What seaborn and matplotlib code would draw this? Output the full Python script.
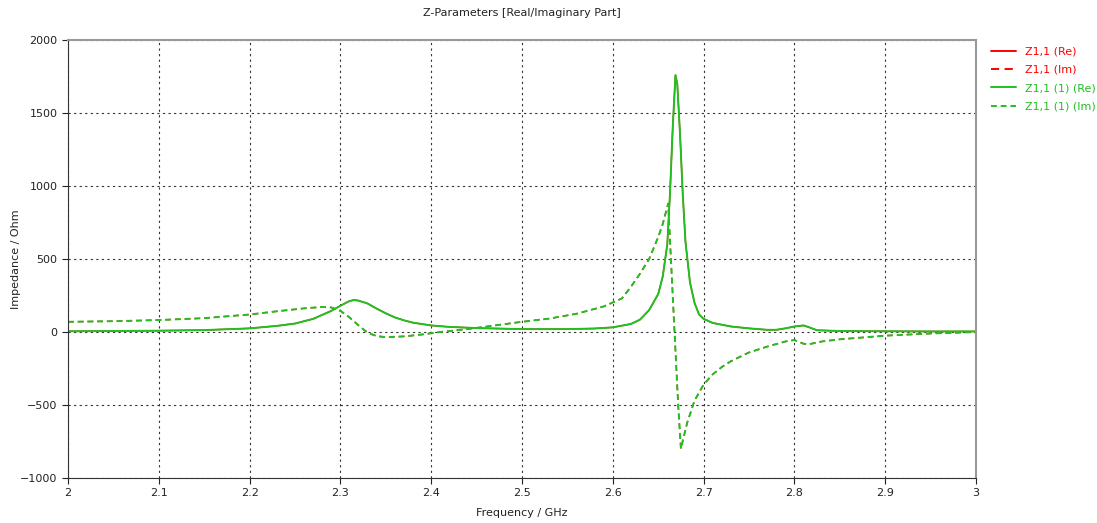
import numpy as np
import pandas as pd
import matplotlib.pyplot as plt
import seaborn as sns

sns.set_style("white")
plt.rcParams['font.family'] = ['DejaVu Sans']

# real part, frequency in GHz and impedance in Ohm
freq_re = [2.00, 2.05, 2.10, 2.15, 2.20, 2.23, 2.25, 2.27, 2.29, 2.30, 2.31, 2.315,
           2.32, 2.33, 2.34, 2.35, 2.36, 2.37, 2.38, 2.40, 2.42, 2.45, 2.50, 2.55,
           2.58, 2.60, 2.62, 2.63, 2.64, 2.65, 2.655, 2.66, 2.663, 2.666, 2.669,
           2.671, 2.674, 2.677, 2.68, 2.685, 2.69, 2.695, 2.70, 2.71, 2.72, 2.73,
           2.75, 2.77, 2.78, 2.79, 2.80, 2.81, 2.815, 2.825, 2.85, 2.90, 2.95, 3.00]
z_re = [5, 7, 9, 13, 25, 42, 58, 90, 145, 180, 212, 219,
        215, 195, 160, 128, 100, 80, 64, 45, 35, 27, 20, 20,
        24, 32, 55, 85, 150, 260, 380, 600, 950, 1400, 1760,
        1700, 1360, 950, 620, 340, 200, 120, 90, 62, 50, 38,
        25, 15, 15, 25, 38, 45, 35, 12, 7, 5, 4, 4]

# imaginary part
freq_im = [2.00, 2.05, 2.10, 2.15, 2.20, 2.23, 2.26, 2.28, 2.29, 2.30, 2.31, 2.32,
           2.33, 2.34, 2.35, 2.37, 2.39, 2.41, 2.44, 2.47, 2.50, 2.53, 2.56, 2.59,
           2.61, 2.62, 2.63, 2.64, 2.65, 2.655, 2.661, 2.664, 2.668, 2.672, 2.675,
           2.678, 2.682, 2.69, 2.70, 2.71, 2.72, 2.73, 2.75, 2.77, 2.79, 2.80,
           2.81, 2.815, 2.83, 2.85, 2.90, 2.95, 3.00]
z_im = [70, 74, 82, 95, 120, 142, 162, 172, 168, 145, 100, 45,
        -5, -28, -35, -30, -17, 0, 20, 45, 70, 92, 125, 175,
        230, 310, 400, 500, 650, 740, 880, 500, 0, -500, -800,
        -720, -620, -470, -360, -290, -240, -200, -140, -100, -65, -55,
        -80, -85, -65, -50, -25, -10, 0]

x_ticks = [2, 2.1, 2.2, 2.3, 2.4, 2.5, 2.6, 2.7, 2.8, 2.9, 3]
x_tick_labels = ["2", "2.1", "2.2", "2.3", "2.4", "2.5", "2.6", "2.7", "2.8", "2.9", "3"]
y_ticks = [-1000, -500, 0, 500, 1000, 1500, 2000]

green = "#20c020"
red = "#ff0000"
fs = 8

fig = plt.figure(figsize=(10.97, 5.23), dpi=100)
ax = fig.add_axes([0.062, 0.086, 0.8277, 0.8375])

# first project (red) lies under the second one (green), so draw it thinner
sns.lineplot(x=freq_re, y=z_re, ax=ax, color=red, lw=1.0, label="Z1,1 (Re)")
sns.lineplot(x=freq_im, y=z_im, ax=ax, color=red, lw=1.0, linestyle=(0, (4.2, 2.8)), label="Z1,1 (Im)")
sns.lineplot(x=freq_re, y=z_re, ax=ax, color=green, lw=1.4, label="Z1,1 (1) (Re)")
sns.lineplot(x=freq_im, y=z_im, ax=ax, color=green, lw=1.4, linestyle=(0, (3, 2)), label="Z1,1 (1) (Im)")

ax.set_xlim(2, 3)
ax.set_ylim(-1000, 2000)
ax.set_xticks(x_ticks)
ax.set_xticklabels(x_tick_labels)
ax.set_yticks(y_ticks)
ax.tick_params(labelsize=fs, length=4, direction="out", colors="#222222", left=True, bottom=True)
ax.grid(True, linestyle=(0, (2, 3)), color="#333333", lw=0.8)

for side in ["left", "bottom"]:
    ax.spines[side].set_color("#333333")
for side in ["right", "top"]:
    ax.spines[side].set_color("#999999")
    ax.spines[side].set_linewidth(1.5)

ax.set_xlabel("Frequency / GHz", fontsize=fs, color="#222222", labelpad=7)
ax.set_ylabel("Impedance / Ohm", fontsize=fs, color="#222222")
ax.yaxis.set_label_coords(-0.052, 0.5)
ax.set_title("Z-Parameters [Real/Imaginary Part]", fontsize=fs, color="#222222", pad=17)

leg = ax.legend(loc="upper left", bbox_to_anchor=(1.012, 0.995), borderaxespad=0, frameon=False,
                fontsize=8, handlelength=2.2, handletextpad=0.8, labelspacing=0.75)
for text, col in zip(leg.get_texts(), [red, red, green, green]):
    text.set_color(col)
for line in leg.get_lines():
    line.set_linewidth(1.4)

plt.savefig("out.png", dpi=100)
